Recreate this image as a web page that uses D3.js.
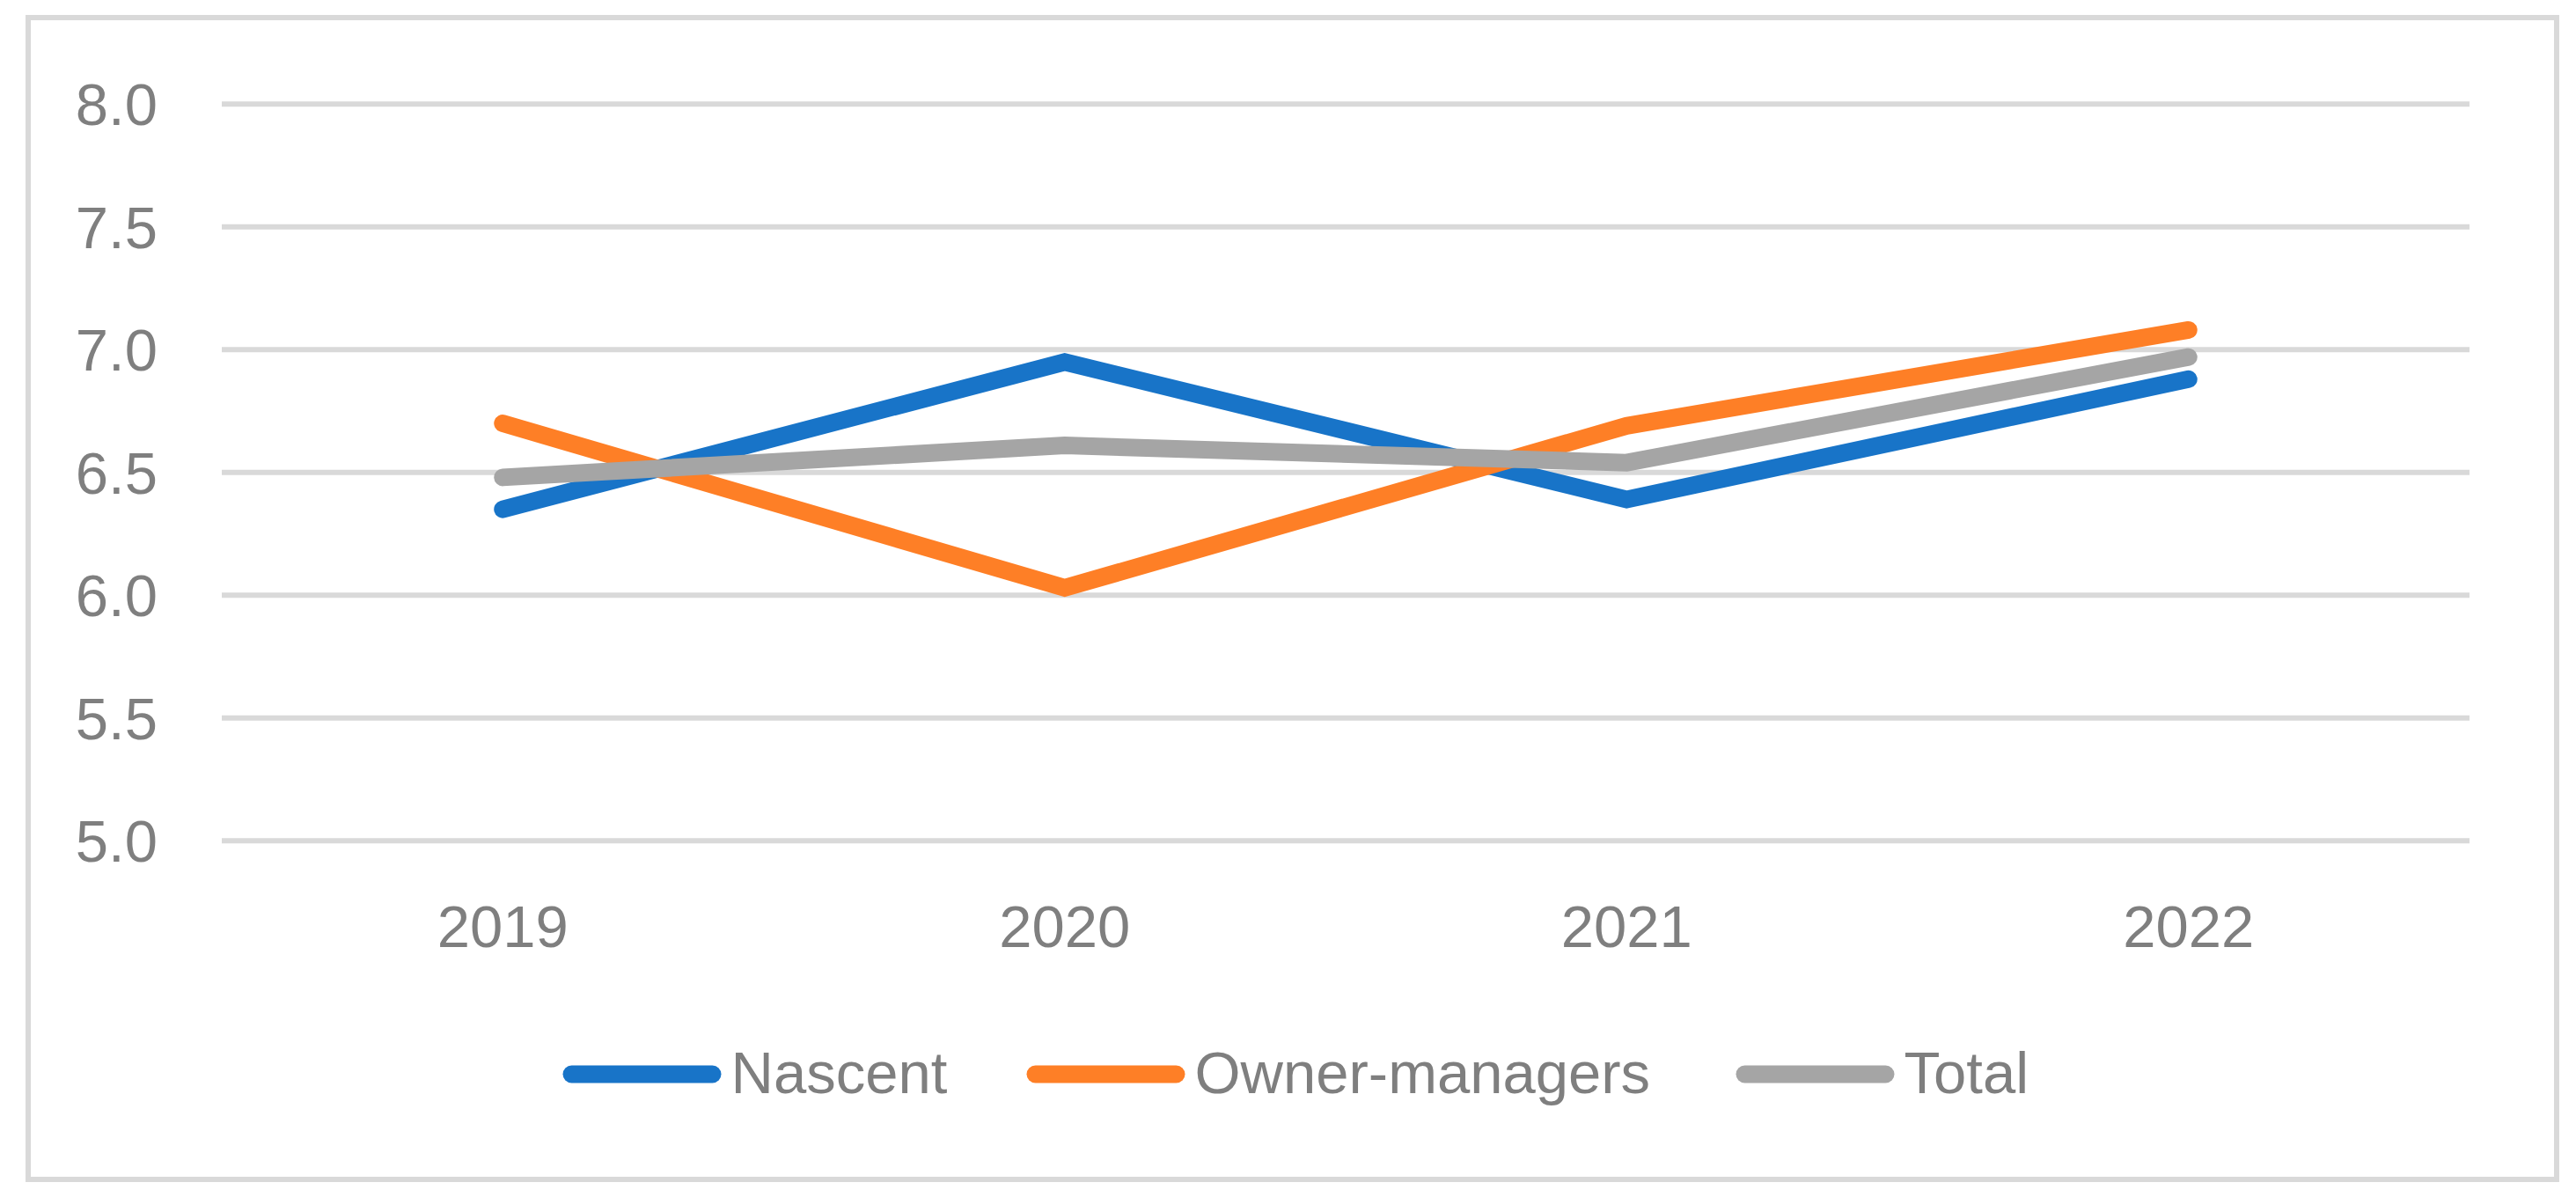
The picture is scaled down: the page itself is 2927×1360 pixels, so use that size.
<!DOCTYPE html>
<html>
<head>
<meta charset="utf-8">
<script src="https://cdn.jsdelivr.net/npm/d3@7"></script>
<style>
  html, body { margin: 0; padding: 0; background: #ffffff; }
  svg { display: block; }
</style>
</head>
<body>
<script>
// ---- data ----
const categories = ["2019", "2020", "2021", "2022"];
const seriesNames = ["Nascent", "Owner-managers", "Total"];
const nascent = [6.35, 6.95, 6.39, 6.88];
const ownerManagers = [6.70, 6.03, 6.69, 7.08];
const total = [6.48, 6.61, 6.54, 6.97];
const yTicks = [5.0, 5.5, 6.0, 6.5, 7.0, 7.5, 8.0];
const yDomain = [5, 8];

const seriesColors = ["#1874c8", "#fe7f26", "#a5a5a5"];
const seriesValues = [nascent, ownerManagers, total];

// ---- layout ----
const W = 2927, H = 1360;
const plot = { left: 252, right: 2806, top: 118.3, bottom: 955.3 };
const textColor = "#7f7f7f";
const gridColor = "#d9d9d9";
const fontFamily = "'Liberation Sans', Arial, sans-serif";
const fontSize = 67;
const lineWidth = 20;

const svg = d3.select("body").append("svg").attr("width", W).attr("height", H);

// outer border
svg.append("rect")
  .attr("x", 32).attr("y", 20)
  .attr("width", 2905 - 32).attr("height", 1340 - 20)
  .attr("fill", "#ffffff").attr("stroke", gridColor).attr("stroke-width", 6);

const x = d3.scaleBand().domain(categories).range([plot.left, plot.right]);
const y = d3.scaleLinear().domain(yDomain).range([plot.bottom, plot.top]);
const cx = d => x(d) + x.bandwidth() / 2;

// gridlines
svg.append("g").selectAll("line").data(yTicks).join("line")
  .attr("x1", plot.left).attr("x2", plot.right)
  .attr("y1", d => y(d)).attr("y2", d => y(d))
  .attr("stroke", gridColor).attr("stroke-width", 6);

// y axis labels
const yAxis = d3.axisLeft(y).tickValues(yTicks).tickFormat(d3.format(".1f")).tickSize(0).tickPadding(0);
const yG = svg.append("g").attr("transform", `translate(179,0)`).call(yAxis);
yG.select(".domain").remove();
yG.selectAll("text")
  .attr("fill", textColor).attr("font-family", fontFamily).attr("font-size", fontSize)
  .attr("dy", "0.35em").attr("x", 0);

// x axis labels
const xAxis = d3.axisBottom(x).tickSize(0).tickPadding(0);
const xG = svg.append("g").attr("transform", `translate(0,1076)`).call(xAxis);
xG.select(".domain").remove();
xG.selectAll("text")
  .attr("fill", textColor).attr("font-family", fontFamily).attr("font-size", fontSize)
  .attr("dy", 0).attr("y", 0);

// lines
const line = d3.line().x((d, i) => cx(categories[i])).y(d => y(d));
seriesValues.forEach((vals, k) => {
  svg.append("path")
    .datum(vals)
    .attr("d", line)
    .attr("fill", "none")
    .attr("stroke", seriesColors[k])
    .attr("stroke-width", lineWidth)
    .attr("stroke-linecap", "round")
    .attr("stroke-linejoin", "miter");
});

// legend
const legendX = [649.5, 1176.5, 1982.5];
const legendLineLen = 160;
const legendY = 1220.5;
const legend = svg.append("g");
seriesNames.forEach((name, k) => {
  const g = legend.append("g").attr("transform", `translate(${legendX[k]},${legendY})`);
  g.append("line")
    .attr("x1", 0).attr("x2", legendLineLen).attr("y1", 0).attr("y2", 0)
    .attr("stroke", seriesColors[k]).attr("stroke-width", lineWidth)
    .attr("stroke-linecap", "round");
  g.append("text")
    .attr("x", legendLineLen + 21).attr("y", 21)
    .attr("fill", textColor).attr("font-family", fontFamily).attr("font-size", fontSize)
    .text(name);
});
</script>
</body>
</html>
